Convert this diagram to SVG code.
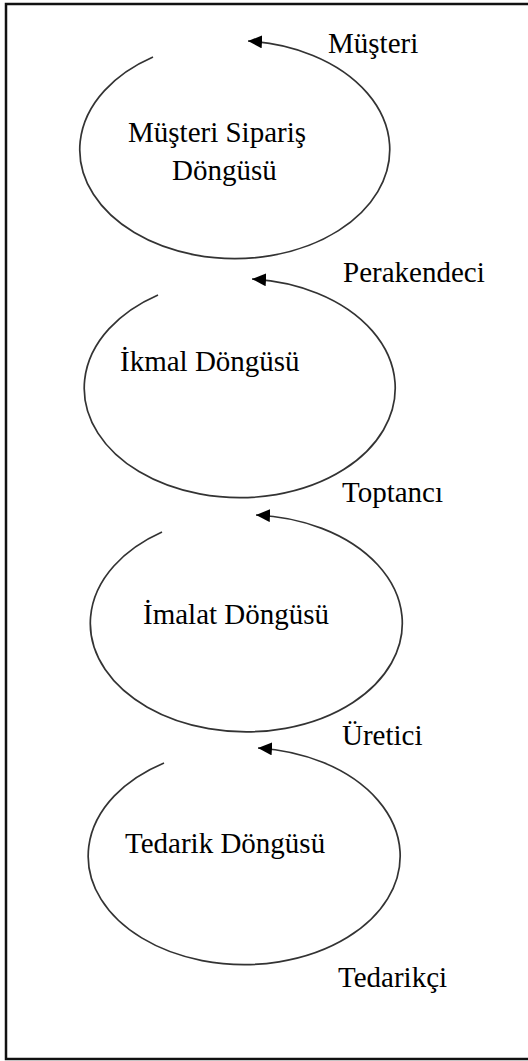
<svg xmlns="http://www.w3.org/2000/svg" width="528" height="1061" viewBox="0 0 528 1061">
<style>
.t{font-family:"Liberation Serif","Times New Roman",serif;font-size:29px;fill:#000}
.c{fill:none;stroke:#333;stroke-width:1.7}
</style>
<defs>
<marker id="ah" markerWidth="15" markerHeight="13" refX="14" refY="6.5" orient="auto" markerUnits="userSpaceOnUse">
<path d="M0,0 L14,6.5 L0,13 Z" fill="#000"/>
</marker>
</defs>
<rect x="0" y="0" width="528" height="1061" fill="#fff"/>
<rect x="6" y="4" width="540" height="1055" fill="none" stroke="#111" stroke-width="2.5"/>
<g id="connectors">
<path class="c" d="M153,57 A155,109 0 1 0 248,41" marker-end="url(#ah)"/>
<path class="c" d="M158,295 A155.5,109.5 0 1 0 252,279" marker-end="url(#ah)"/>
<path class="c" d="M162,532 A156,108.5 0 1 0 256,515" marker-end="url(#ah)"/>
<path class="c" d="M164,763 A156,108.5 0 1 0 258,748" marker-end="url(#ah)"/>
</g>
<g id="node-musteri-siparis">
<text class="t" x="128" y="142">Müşteri Sipariş</text>
<text class="t" x="172" y="180">Döngüsü</text>
</g>
<g id="node-ikmal"><text class="t" x="120" y="371">İkmal Döngüsü</text></g>
<g id="node-imalat"><text class="t" x="143" y="624">İmalat Döngüsü</text></g>
<g id="node-tedarik"><text class="t" x="125" y="853">Tedarik Döngüsü</text></g>
<g id="label-musteri"><text class="t" x="328" y="53">Müşteri</text></g>
<g id="label-perakendeci"><text class="t" x="343" y="282">Perakendeci</text></g>
<g id="label-toptanci"><text class="t" x="342" y="502">Toptancı</text></g>
<g id="label-uretici"><text class="t" x="342" y="745">Üretici</text></g>
<g id="label-tedarikci"><text class="t" x="338" y="987">Tedarikçi</text></g>
</svg>
